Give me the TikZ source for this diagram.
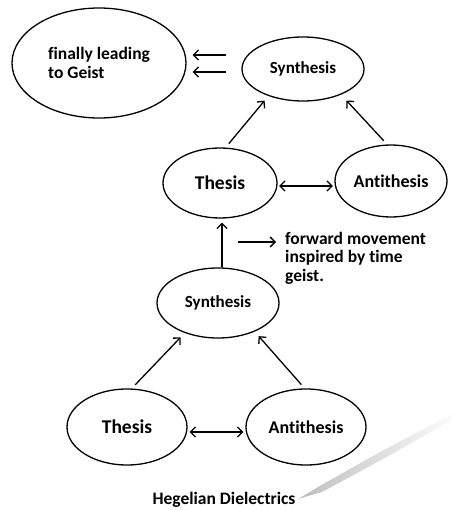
\documentclass[tikz,border=0pt]{standalone}
\usepackage{fontspec}
\setmainfont[Ligatures=NoCommon]{Carlito}
\usetikzlibrary{shapes.geometric,arrows.meta}
\begin{document}
\begin{tikzpicture}[x=1pt,y=-1pt,
  bubble/.style={draw, ellipse, line width=1.3pt, inner sep=0pt, font=\bfseries\fontsize{17}{19}\selectfont},
  big/.style={font=\bfseries\fontsize{19.5}{22}\selectfont},
  mid/.style={font=\bfseries\fontsize{18}{21}\selectfont},
  arr/.style={line width=1.3pt, -{Straight Barb[length=5pt,width=10pt]}},
  dbl/.style={line width=1.3pt, {Straight Barb[length=5pt,width=10pt]}-{Straight Barb[length=5pt,width=10pt]}},
  note/.style={font=\bfseries\fontsize{17.5}{18.5}\selectfont, align=left, inner sep=0pt},
]
\useasboundingbox (0,0) rectangle (452,510);

% upper triad
\node[bubble, note, draw, minimum width=174pt, minimum height=110pt] (geist) at (99,63) {finally leading\\to Geist};
\node[bubble, minimum width=122pt, minimum height=64pt] (synA) at (303,69) {Synthesis};
\node[bubble, big, minimum width=114pt, minimum height=70pt] (thA) at (220,183) {Thesis};
\node[bubble, mid, minimum width=112pt, minimum height=72pt] (antA) at (391,181) {Antithesis};

% lower triad
\node[bubble, minimum width=122pt, minimum height=70pt] (synB) at (218,303) {Synthesis};
\node[bubble, big, minimum width=120pt, minimum height=76pt] (thB) at (127,427) {Thesis};
\node[bubble, mid, minimum width=120pt, minimum height=76pt] (antB) at (306,427) {Antithesis};

% annotations
\node[note, anchor=west] (fwd) at (285,258) {forward movement\\inspired by time\\geist.};
\node[note] (cap) at (224,500) {Hegelian Dielectrics};
\coordinate (fwdTail) at (238,242);

% connectors
\draw[arr] ([shift={(-15,-14)}]synA.west) -- ([shift={(6,-8)}]geist.east);
\draw[arr] ([shift={(-15,3)}]synA.west) -- ([shift={(6,9)}]geist.east);
\draw[arr, shorten <=5pt, shorten >=6pt] (thA.81) -- (synA.218);
\draw[arr, shorten <=5pt, shorten >=8pt] (antA.96) -- (synA.326);
\draw[dbl, shorten <=1.5pt, shorten >=1.5pt] (thA.east |- 0,186) -- (antA.west |- 0,186);
\draw[arr, shorten >=4pt] (synB.north -| 222,0) -- (thA.south -| 222,0);
\draw[arr] (fwdTail) -- ([xshift=-9pt]fwd.west |- fwdTail);
\draw[arr, shorten <=5pt, shorten >=6pt] (thB.83) -- (synB.222);
\draw[arr, shorten <=5pt, shorten >=6pt] (antB.92) -- (synB.322);
\draw[dbl, shorten <=2pt, shorten >=2pt] (thB.east |- 0,432) -- (antB.west |- 0,432);

% faint streak near the caption
\shade[left color=gray!85, right color=gray!5, opacity=0.6]
  (298,499) -- (318,487) -- (380,452) -- (452,414) -- (452,420) -- (385,458) -- (322,492) -- cycle;
\end{tikzpicture}
\end{document}
